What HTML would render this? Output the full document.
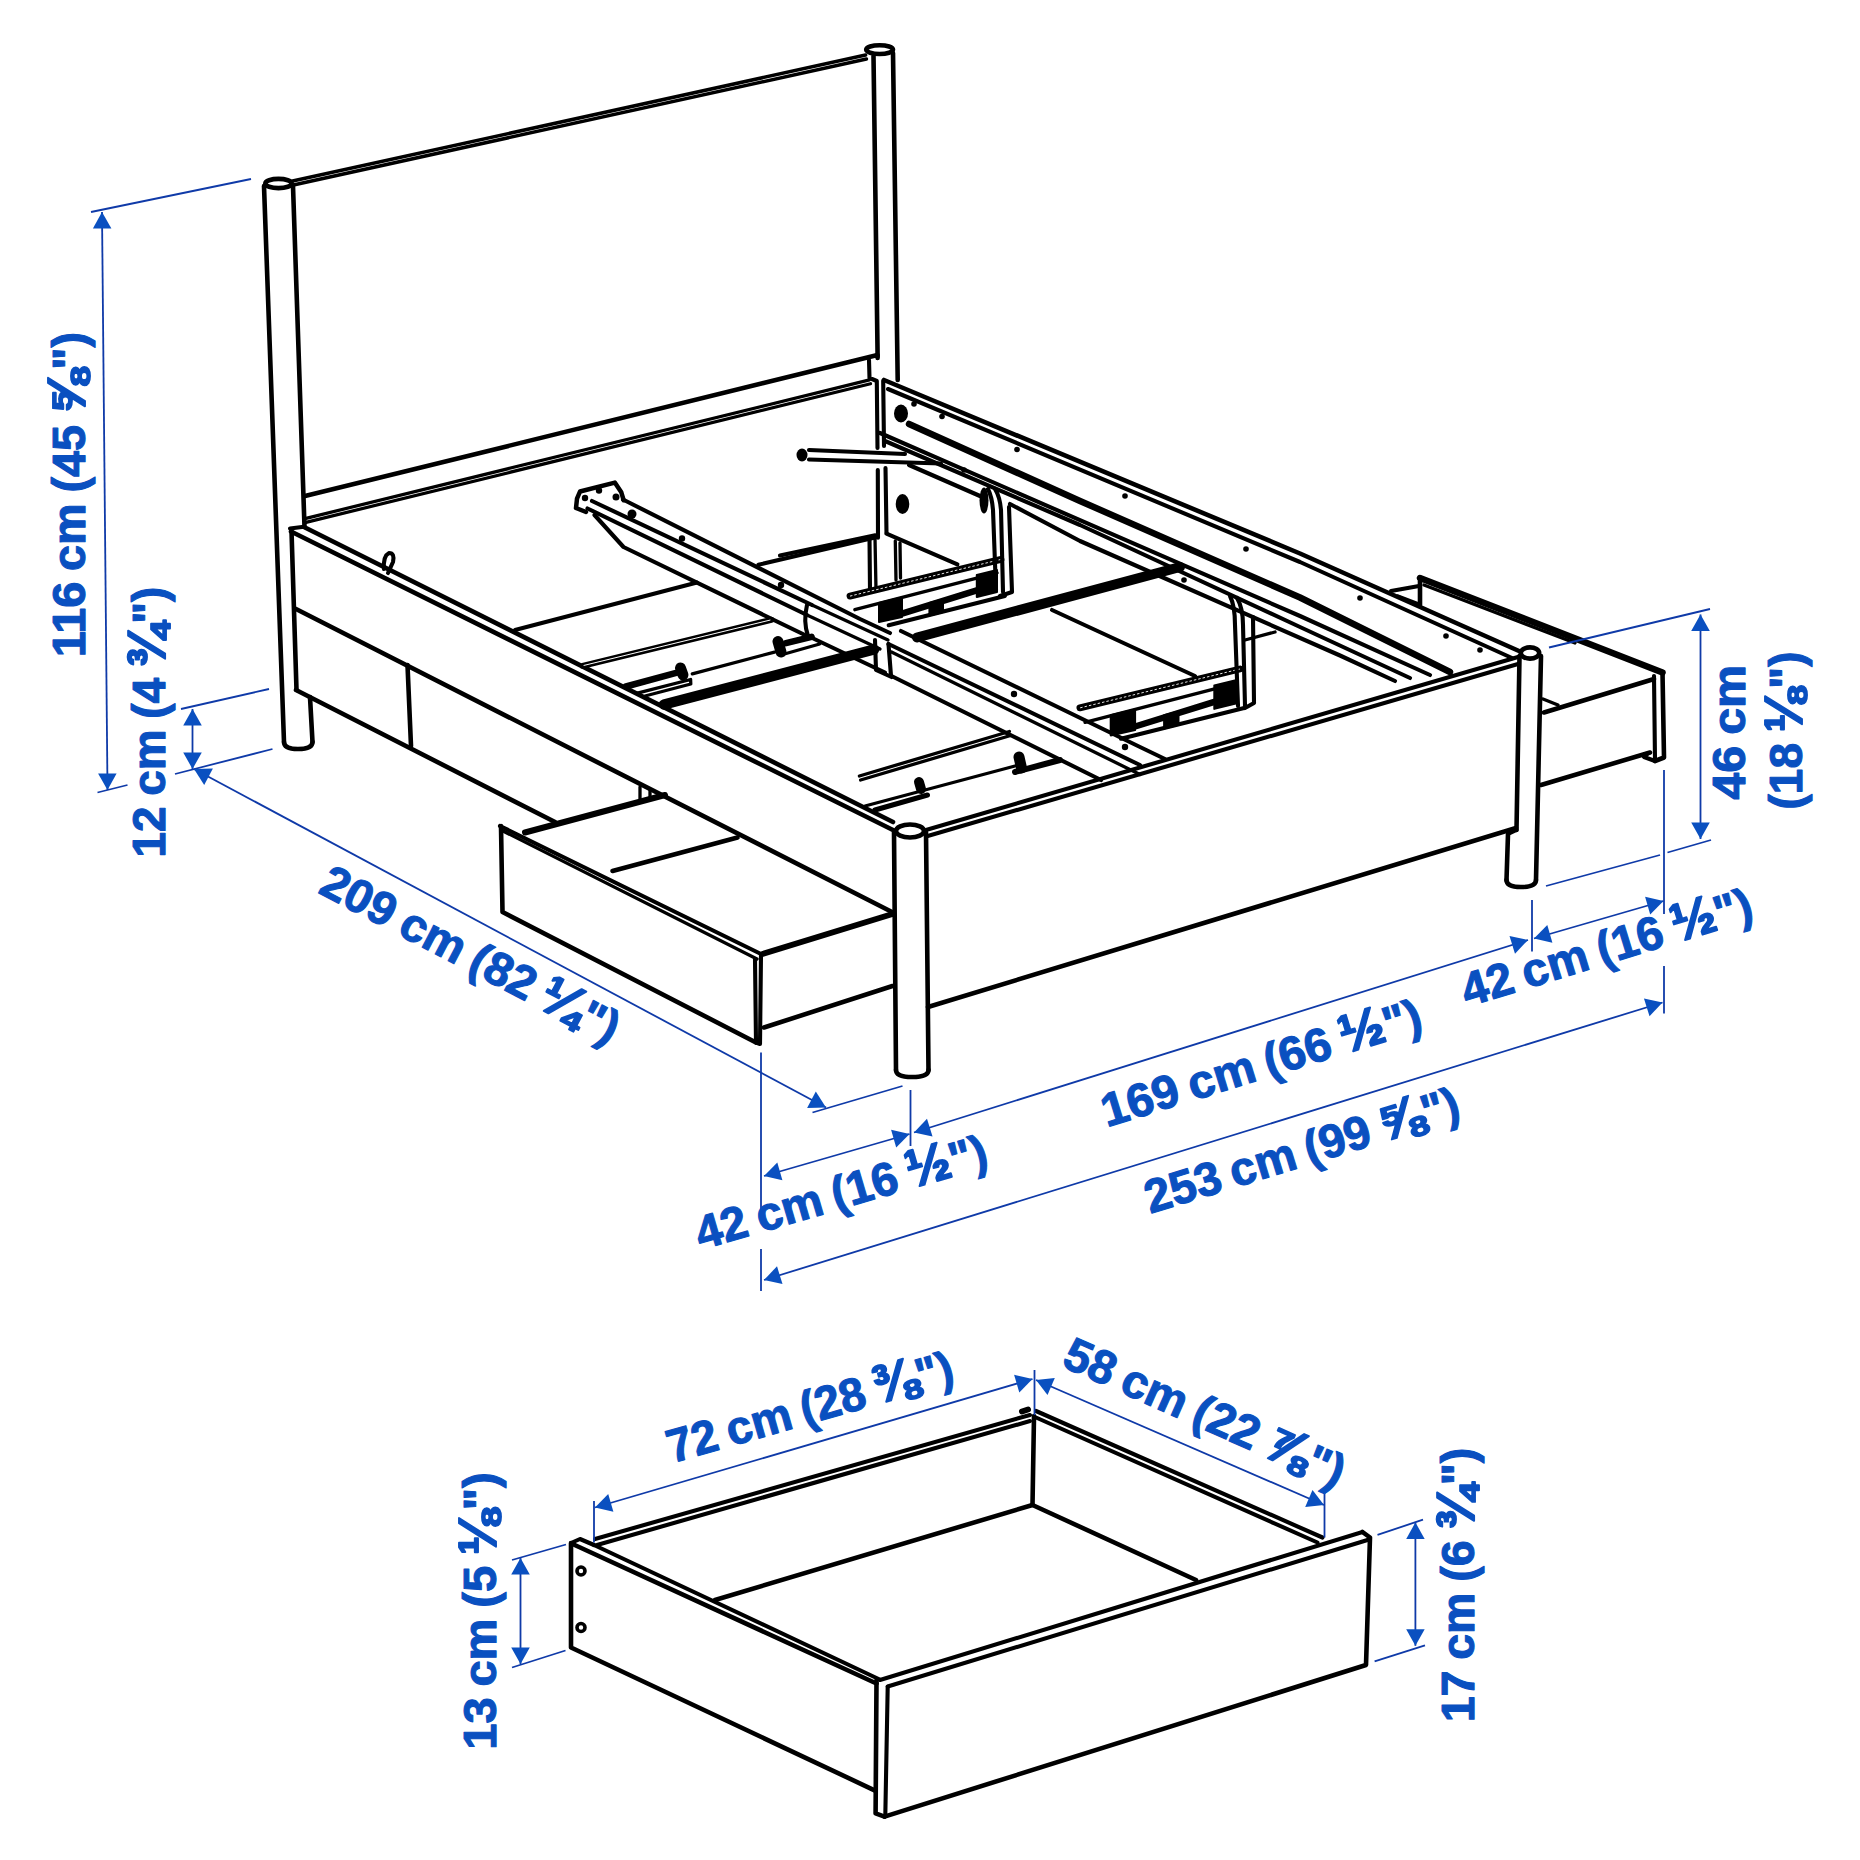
<!DOCTYPE html>
<html><head><meta charset="utf-8"><title>Bed frame measurements</title>
<style>html,body{margin:0;padding:0;background:#fff}svg{display:block}text{word-spacing:-0.05em;font-family:"Liberation Sans",Arial,sans-serif;font-weight:700;white-space:pre}</style>
</head><body>
<svg width="1860" height="1860" viewBox="0 0 1860 1860">
<rect width="1860" height="1860" fill="#fff"/>
<path d="M264.0,186.0 L284.0,742.0" stroke="#000" stroke-width="4.6" fill="none" stroke-linejoin="round" stroke-linecap="round"/>
<path d="M293.0,186.0 L304.5,527.0" stroke="#000" stroke-width="4.6" fill="none" stroke-linejoin="round" stroke-linecap="round"/>
<path d="M310.0,697.0 L312.5,742.0" stroke="#000" stroke-width="4.6" fill="none" stroke-linejoin="round" stroke-linecap="round"/>
<path d="M284,742 Q284,749 298,749 Q312.5,749 312.5,742" stroke="#000" stroke-width="4.6" fill="none" stroke-linejoin="round" stroke-linecap="round"/>
<ellipse cx="278.5" cy="183.5" rx="13.2" ry="4.6" stroke="#000" stroke-width="4.6" fill="#fff" transform="rotate(0 278.5 183.5)"/>
<path d="M893.0,53.0 L897.7,380.0" stroke="#000" stroke-width="4.6" fill="none" stroke-linejoin="round" stroke-linecap="round"/>
<ellipse cx="879.6" cy="49.6" rx="13.4" ry="4.4" stroke="#000" stroke-width="4.6" fill="#fff" transform="rotate(0 879.6 49.6)"/>
<line x1="293.4" y1="185.0" x2="866.4" y2="59.0" stroke="#000" stroke-width="3.5" stroke-linecap="round"/>
<line x1="292.6" y1="181.0" x2="865.6" y2="55.0" stroke="#000" stroke-width="3.5" stroke-linecap="round"/>
<path d="M873.5,56.0 L877.6,356.0" stroke="#000" stroke-width="4.6" fill="none" stroke-linejoin="round" stroke-linecap="round"/>
<path d="M305.0,496.0 L877.5,355.0 L877.6,358.0" stroke="#000" stroke-width="4.6" fill="none" stroke-linejoin="round" stroke-linecap="round"/>
<line x1="306.0" y1="522.4" x2="870.5" y2="383.7" stroke="#000" stroke-width="3.2" stroke-linecap="round"/>
<line x1="305.0" y1="518.6" x2="869.5" y2="379.9" stroke="#000" stroke-width="3.2" stroke-linecap="round"/>
<path d="M869.0,360.0 L869.5,378.0" stroke="#000" stroke-width="4.1" fill="none" stroke-linejoin="round" stroke-linecap="round"/>
<path d="M872.0,379.0 L876.8,381.0 L877.5,448.0" stroke="#000" stroke-width="4.1" fill="none" stroke-linejoin="round" stroke-linecap="round"/>
<path d="M877.8,470.0 L878.0,537.7" stroke="#000" stroke-width="4.1" fill="none" stroke-linejoin="round" stroke-linecap="round"/>
<path d="M883.2,381.0 L884.0,446.0" stroke="#000" stroke-width="4.1" fill="none" stroke-linejoin="round" stroke-linecap="round"/>
<path d="M885.5,468.0 L886.5,533.0" stroke="#000" stroke-width="4.1" fill="none" stroke-linejoin="round" stroke-linecap="round"/>
<path d="M780.0,555.5 L875.2,535.3" stroke="#000" stroke-width="4.1" fill="none" stroke-linejoin="round" stroke-linecap="round"/>
<path d="M869.5,538.0 L870.0,590.0" stroke="#000" stroke-width="4.1" fill="none" stroke-linejoin="round" stroke-linecap="round"/>
<path d="M875.0,538.0 L876.0,590.0" stroke="#000" stroke-width="3.3" fill="none" stroke-linejoin="round" stroke-linecap="round"/>
<path d="M895.3,541.0 L896.0,580.0" stroke="#000" stroke-width="3.3" fill="none" stroke-linejoin="round" stroke-linecap="round"/>
<path d="M900.0,543.0 L900.5,578.0" stroke="#000" stroke-width="3.3" fill="none" stroke-linejoin="round" stroke-linecap="round"/>
<path d="M886.5,533.7 L957.4,564.4" stroke="#000" stroke-width="4.1" fill="none" stroke-linejoin="round" stroke-linecap="round"/>
<path d="M304.0,527.0 L893.0,822.0" stroke="#000" stroke-width="4.6" fill="none" stroke-linejoin="round" stroke-linecap="round"/>
<path d="M291.0,531.5 L894.0,830.5" stroke="#000" stroke-width="4.6" fill="none" stroke-linejoin="round" stroke-linecap="round"/>
<path d="M290.0,528.5 L304.0,526.8" stroke="#000" stroke-width="4.1" fill="none" stroke-linejoin="round" stroke-linecap="round"/>
<path d="M291.5,531.0 L296.5,690.0" stroke="#000" stroke-width="4.6" fill="none" stroke-linejoin="round" stroke-linecap="round"/>
<path d="M296.0,609.0 L892.0,912.0" stroke="#000" stroke-width="4.6" fill="none" stroke-linejoin="round" stroke-linecap="round"/>
<path d="M296.0,690.0 L555.0,822.0" stroke="#000" stroke-width="4.6" fill="none" stroke-linejoin="round" stroke-linecap="round"/>
<path d="M407.5,665.0 L411.0,746.0" stroke="#000" stroke-width="4.6" fill="none" stroke-linejoin="round" stroke-linecap="round"/>
<path d="M384,569 Q383,556 389,553 Q395,553 393,562 L388,573" stroke="#000" stroke-width="4.1" fill="none" stroke-linejoin="round" stroke-linecap="round"/>
<path d="M894.0,832.0 L896.0,1070.0" stroke="#000" stroke-width="4.6" fill="none" stroke-linejoin="round" stroke-linecap="round"/>
<path d="M926.0,832.0 L928.5,1070.0" stroke="#000" stroke-width="4.6" fill="none" stroke-linejoin="round" stroke-linecap="round"/>
<path d="M896,1070 Q896,1077 912,1077 Q928.5,1077 928.5,1070" stroke="#000" stroke-width="4.6" fill="none" stroke-linejoin="round" stroke-linecap="round"/>
<ellipse cx="910" cy="831" rx="14" ry="6.5" stroke="#000" stroke-width="4.6" fill="#fff" transform="rotate(0 910 831)"/>
<path d="M926.0,830.0 L1518.0,657.0" stroke="#000" stroke-width="4.1" fill="none" stroke-linejoin="round" stroke-linecap="round"/>
<path d="M926.0,836.5 L1518.0,664.0" stroke="#000" stroke-width="4.1" fill="none" stroke-linejoin="round" stroke-linecap="round"/>
<path d="M928.0,1007.0 L1516.0,828.0" stroke="#000" stroke-width="4.6" fill="none" stroke-linejoin="round" stroke-linecap="round"/>
<path d="M1519.5,656.0 L1516.5,830.0" stroke="#000" stroke-width="4.6" fill="none" stroke-linejoin="round" stroke-linecap="round"/>
<path d="M1541.0,656.0 L1536.0,880.0" stroke="#000" stroke-width="4.6" fill="none" stroke-linejoin="round" stroke-linecap="round"/>
<path d="M1508.0,834.0 L1506.5,880.0" stroke="#000" stroke-width="4.6" fill="none" stroke-linejoin="round" stroke-linecap="round"/>
<path d="M1506.5,880 Q1506.5,887 1521,887 Q1536,887 1536,880" stroke="#000" stroke-width="4.6" fill="none" stroke-linejoin="round" stroke-linecap="round"/>
<path d="M1508.0,834.0 L1516.5,830.0" stroke="#000" stroke-width="4.1" fill="none" stroke-linejoin="round" stroke-linecap="round"/>
<ellipse cx="1530" cy="653" rx="9.2" ry="5.6" stroke="#000" stroke-width="4.6" fill="#fff" transform="rotate(0 1530 653)"/>
<path d="M884.0,380.0 L1300.0,553.5 L1519.0,651.0" stroke="#000" stroke-width="4.6" fill="none" stroke-linejoin="round" stroke-linecap="round"/>
<path d="M888.0,389.0 L1300.0,562.0 L1512.0,658.0" stroke="#000" stroke-width="4.1" fill="none" stroke-linejoin="round" stroke-linecap="round"/>
<path d="M909.0,424.0 L1080.0,501.0 L1300.0,597.5 L1450.0,672.0" stroke="#000" stroke-width="6.5" fill="none" stroke-linejoin="round" stroke-linecap="round"/>
<path d="M880.0,433.0 L1300.0,616.0 L1430.0,675.0" stroke="#000" stroke-width="4.1" fill="none" stroke-linejoin="round" stroke-linecap="round"/>
<path d="M885.0,441.0 L1080.0,525.0 L1300.0,627.0 L1410.0,678.0" stroke="#000" stroke-width="4.1" fill="none" stroke-linejoin="round" stroke-linecap="round"/>
<path d="M909.0,465.0 L980.0,496.0" stroke="#000" stroke-width="4.1" fill="none" stroke-linejoin="round" stroke-linecap="round"/>
<path d="M1010.0,504.0 L1080.0,541.0 L1340.0,655.5 L1395.0,681.0" stroke="#000" stroke-width="4.1" fill="none" stroke-linejoin="round" stroke-linecap="round"/>
<circle cx="914.0" cy="404.0" r="2.8" fill="#000" stroke="#000" stroke-width="0"/>
<circle cx="942.0" cy="416.5" r="2.8" fill="#000" stroke="#000" stroke-width="0"/>
<circle cx="1017.0" cy="449.5" r="2.8" fill="#000" stroke="#000" stroke-width="0"/>
<circle cx="1125.0" cy="496.0" r="2.8" fill="#000" stroke="#000" stroke-width="0"/>
<circle cx="1246.0" cy="549.0" r="2.8" fill="#000" stroke="#000" stroke-width="0"/>
<circle cx="1360.0" cy="598.0" r="2.8" fill="#000" stroke="#000" stroke-width="0"/>
<circle cx="1446.0" cy="636.0" r="2.8" fill="#000" stroke="#000" stroke-width="0"/>
<circle cx="1480.0" cy="650.0" r="2.8" fill="#000" stroke="#000" stroke-width="0"/>
<circle cx="964.0" cy="470.0" r="2.8" fill="#000" stroke="#000" stroke-width="0"/>
<circle cx="1184.0" cy="580.0" r="2.8" fill="#000" stroke="#000" stroke-width="0"/>
<ellipse cx="901" cy="413.5" rx="7" ry="9" fill="#000"/>
<ellipse cx="902.5" cy="504" rx="6.8" ry="10" fill="#000"/>
<ellipse cx="984" cy="500.5" rx="4.5" ry="13" fill="#000"/>
<path d="M809,450 L905,454 M809,459.5 L941,463.5" stroke="#000" stroke-width="4.1" fill="none" stroke-linejoin="round" stroke-linecap="round"/>
<ellipse cx="802" cy="455" rx="5.5" ry="6.5" fill="#000"/>
<path d="M500.0,826.0 L761.0,954.0" stroke="#000" stroke-width="4.1" fill="none" stroke-linejoin="round" stroke-linecap="round"/>
<path d="M503.0,831.0 L757.0,959.0" stroke="#000" stroke-width="3.3" fill="none" stroke-linejoin="round" stroke-linecap="round"/>
<path d="M501.0,826.0 L502.5,912.0 L756.0,1042.5" stroke="#000" stroke-width="4.6" fill="none" stroke-linejoin="round" stroke-linecap="round"/>
<path d="M755.0,959.0 L756.0,1042.5" stroke="#000" stroke-width="4.1" fill="none" stroke-linejoin="round" stroke-linecap="round"/>
<path d="M761.0,954.0 L760.0,1044.0 L756.0,1042.5" stroke="#000" stroke-width="4.1" fill="none" stroke-linejoin="round" stroke-linecap="round"/>
<path d="M525.0,832.5 L665.0,795.0" stroke="#000" stroke-width="6" fill="none" stroke-linejoin="round" stroke-linecap="round"/>
<path d="M762.5,954.0 L892.5,914.0" stroke="#000" stroke-width="6" fill="none" stroke-linejoin="round" stroke-linecap="round"/>
<path d="M764.0,1027.5 L892.5,986.0" stroke="#000" stroke-width="4.6" fill="none" stroke-linejoin="round" stroke-linecap="round"/>
<path d="M612.5,871.0 L737.5,837.5" stroke="#000" stroke-width="4.6" fill="none" stroke-linejoin="round" stroke-linecap="round"/>
<path d="M640.0,787.0 L640.0,800.0" stroke="#000" stroke-width="3.3" fill="none" stroke-linejoin="round" stroke-linecap="round"/>
<path d="M650.0,790.0 L650.0,797.0" stroke="#000" stroke-width="3.3" fill="none" stroke-linejoin="round" stroke-linecap="round"/>
<path d="M1420.0,578.0 L1662.5,672.5" stroke="#000" stroke-width="6.5" fill="none" stroke-linejoin="round" stroke-linecap="round"/>
<path d="M1420.0,578.0 L1420.0,605.0" stroke="#000" stroke-width="4.6" fill="none" stroke-linejoin="round" stroke-linecap="round"/>
<path d="M1424.0,585.0 L1575.0,643.0" stroke="#000" stroke-width="3.3" fill="none" stroke-linejoin="round" stroke-linecap="round"/>
<path d="M1391.0,591.0 L1419.0,586.0" stroke="#000" stroke-width="4.1" fill="none" stroke-linejoin="round" stroke-linecap="round"/>
<path d="M1398.0,596.0 L1419.0,604.0" stroke="#000" stroke-width="3.3" fill="none" stroke-linejoin="round" stroke-linecap="round"/>
<path d="M1662.5,672.5 L1664.0,757.5 L1655.0,761.0" stroke="#000" stroke-width="4.6" fill="none" stroke-linejoin="round" stroke-linecap="round"/>
<path d="M1654.0,676.0 L1655.0,761.0 L1644.0,757.0" stroke="#000" stroke-width="4.1" fill="none" stroke-linejoin="round" stroke-linecap="round"/>
<path d="M1544.0,712.5 L1654.0,679.0" stroke="#000" stroke-width="4.6" fill="none" stroke-linejoin="round" stroke-linecap="round"/>
<path d="M1541.0,785.0 L1650.0,752.5" stroke="#000" stroke-width="4.6" fill="none" stroke-linejoin="round" stroke-linecap="round"/>
<path d="M1543.0,699.0 L1558.0,705.0" stroke="#000" stroke-width="3.3" fill="none" stroke-linejoin="round" stroke-linecap="round"/>
<path d="M1644.0,757.0 L1650.0,752.5" stroke="#000" stroke-width="3.3" fill="none" stroke-linejoin="round" stroke-linecap="round"/>
<path d="M623.0,499.5 L860.0,619.0 L890.0,633.0" stroke="#000" stroke-width="4.1" fill="none" stroke-linejoin="round" stroke-linecap="round"/>
<path d="M592.0,501.0 L812.0,605.0" stroke="#000" stroke-width="4.1" fill="none" stroke-linejoin="round" stroke-linecap="round"/>
<path d="M587.5,508.5 L807.0,615.0" stroke="#000" stroke-width="4.1" fill="none" stroke-linejoin="round" stroke-linecap="round"/>
<path d="M594.5,515.0 L623.5,547.0 L807.0,636.0" stroke="#000" stroke-width="4.1" fill="none" stroke-linejoin="round" stroke-linecap="round"/>
<path d="M807,605 Q803,622 808,636" stroke="#000" stroke-width="4.1" fill="none" stroke-linejoin="round" stroke-linecap="round"/>
<path d="M808.0,636.0 L885.0,672.5" stroke="#000" stroke-width="4.1" fill="none" stroke-linejoin="round" stroke-linecap="round"/>
<path d="M812.0,605.0 L888.0,640.0" stroke="#000" stroke-width="3.3" fill="none" stroke-linejoin="round" stroke-linecap="round"/>
<path d="M807.0,615.0 L880.0,649.0" stroke="#000" stroke-width="3.3" fill="none" stroke-linejoin="round" stroke-linecap="round"/>
<path d="M901.0,631.0 L1140.0,747.0 L1165.0,759.0" stroke="#000" stroke-width="4.1" fill="none" stroke-linejoin="round" stroke-linecap="round"/>
<path d="M888.5,644.0 L1140.0,765.0" stroke="#000" stroke-width="4.1" fill="none" stroke-linejoin="round" stroke-linecap="round"/>
<path d="M891.5,652.0 L1140.0,774.5" stroke="#000" stroke-width="3.3" fill="none" stroke-linejoin="round" stroke-linecap="round"/>
<path d="M891.5,676.0 L1101.0,780.0" stroke="#000" stroke-width="4.1" fill="none" stroke-linejoin="round" stroke-linecap="round"/>
<path d="M875.0,640.0 L876.0,670.0 L891.5,677.0" stroke="#000" stroke-width="4.1" fill="none" stroke-linejoin="round" stroke-linecap="round"/>
<path d="M888.5,644.0 L891.0,676.0" stroke="#000" stroke-width="4.1" fill="none" stroke-linejoin="round" stroke-linecap="round"/>
<path d="M576,508 L577,498.7 L580,491.5 L614.8,482.6 L621.3,492.3 L623.7,500.3 M576,508 L586,512" stroke="#000" stroke-width="4.5" fill="none" stroke-linejoin="round" stroke-linecap="round"/>
<circle cx="599.0" cy="490.5" r="3.2" fill="#000" stroke="#000" stroke-width="0"/>
<circle cx="585.0" cy="498.0" r="3.2" fill="#000" stroke="#000" stroke-width="0"/>
<circle cx="616.0" cy="497.0" r="3.5" fill="#000" stroke="#000" stroke-width="0"/>
<circle cx="632.0" cy="514.0" r="4.5" fill="#000" stroke="#000" stroke-width="0"/>
<circle cx="682.0" cy="538.5" r="3.2" fill="#000" stroke="#000" stroke-width="0"/>
<circle cx="781.0" cy="585.0" r="3.2" fill="#000" stroke="#000" stroke-width="0"/>
<circle cx="1014.0" cy="694.0" r="3.2" fill="#000" stroke="#000" stroke-width="0"/>
<circle cx="1125.0" cy="747.0" r="3.2" fill="#000" stroke="#000" stroke-width="0"/>
<path d="M664.0,704.5 L874.0,649.5" stroke="#000" stroke-width="10.5" fill="none" stroke-linejoin="round" stroke-linecap="round"/>
<path d="M917.0,637.5 L1180.0,567.0" stroke="#000" stroke-width="10" fill="none" stroke-linejoin="round" stroke-linecap="round"/>
<path d="M515.0,630.0 L697.0,582.6" stroke="#000" stroke-width="4.1" fill="none" stroke-linejoin="round" stroke-linecap="round"/>
<path d="M758.4,564.8 L875.0,537.5" stroke="#000" stroke-width="4.1" fill="none" stroke-linejoin="round" stroke-linecap="round"/>
<path d="M582.6,665.8 L771.3,619.8" stroke="#000" stroke-width="6" fill="none" stroke-linejoin="round" stroke-linecap="round"/>
<path d="M584.0,665.4 L770.0,620.1" stroke="#fff" stroke-width="1" fill="none" stroke-linejoin="round" stroke-linecap="round"/>
<path d="M692.3,673.9 L774.5,652.1" stroke="#000" stroke-width="3.3" fill="none" stroke-linejoin="round" stroke-linecap="round"/>
<path d="M626.0,686.5 L678.0,672.3" stroke="#000" stroke-width="6.5" fill="none" stroke-linejoin="round" stroke-linecap="round"/>
<path d="M637.4,693.2 L690.6,679.5 L690.8,684.0 L645.0,696.0" stroke="#000" stroke-width="3.3" fill="none" stroke-linejoin="round" stroke-linecap="round"/>
<path d="M786.0,643.2 L811.6,636.8" stroke="#000" stroke-width="6.5" fill="none" stroke-linejoin="round" stroke-linecap="round"/>
<path d="M782.6,654.5 L819.7,644.0" stroke="#000" stroke-width="3.3" fill="none" stroke-linejoin="round" stroke-linecap="round"/>
<path d="M1052.0,610.0 L1195.0,676.0" stroke="#000" stroke-width="4.1" fill="none" stroke-linejoin="round" stroke-linecap="round"/>
<line x1="860.6" y1="780.0" x2="1010.6" y2="735.5" stroke="#000" stroke-width="3.3" stroke-linecap="round"/>
<line x1="859.4" y1="776.0" x2="1009.4" y2="731.5" stroke="#000" stroke-width="3.3" stroke-linecap="round"/>
<path d="M865.0,806.0 L1015.0,766.0" stroke="#000" stroke-width="3.3" fill="none" stroke-linejoin="round" stroke-linecap="round"/>
<path d="M1015.0,772.0 L1060.0,760.0" stroke="#000" stroke-width="6" fill="none" stroke-linejoin="round" stroke-linecap="round"/>
<path d="M875.0,810.0 L927.5,795.0" stroke="#000" stroke-width="5" fill="none" stroke-linejoin="round" stroke-linecap="round"/>
<path d="M1001.0,559.4 L850.0,596.1" stroke="#000" stroke-width="6.8" fill="none" stroke-linejoin="round" stroke-linecap="round"/>
<line x1="1001.0" y1="559.4" x2="850.0" y2="596.1" stroke="#fff" stroke-width="0.9" stroke-dasharray="2.5 2"/>
<path d="M854.8,609.7 L997.1,572.9" stroke="#000" stroke-width="3.3" fill="none" stroke-linejoin="round" stroke-linecap="round"/>
<path d="M879.0,603.0 L902.0,597.5 L902.0,617.0 L879.0,622.0 Z" stroke="#000" stroke-width="2" fill="#000" stroke-linejoin="round" stroke-linecap="round"/>
<path d="M902.0,613.6 L976.8,590.3" stroke="#000" stroke-width="6.5" fill="none" stroke-linejoin="round" stroke-linecap="round"/>
<path d="M976.8,575.0 L997.0,570.0 L997.0,592.0 L976.8,597.0 Z" stroke="#000" stroke-width="2" fill="#000" stroke-linejoin="round" stroke-linecap="round"/>
<path d="M929.4,603.0 L943.0,599.5 L943.0,612.0 L929.4,615.5 Z" stroke="#000" stroke-width="2" fill="#000" stroke-linejoin="round" stroke-linecap="round"/>
<path d="M888.7,625.2 L1004.9,596.1" stroke="#000" stroke-width="4.1" fill="none" stroke-linejoin="round" stroke-linecap="round"/>
<path d="M1240.0,669.0 L1079.9,707.9" stroke="#000" stroke-width="6.8" fill="none" stroke-linejoin="round" stroke-linecap="round"/>
<line x1="1240.0" y1="669.0" x2="1079.9" y2="707.9" stroke="#fff" stroke-width="0.9" stroke-dasharray="2.5 2"/>
<path d="M1085.0,722.3 L1235.9,683.3" stroke="#000" stroke-width="3.3" fill="none" stroke-linejoin="round" stroke-linecap="round"/>
<path d="M1110.7,715.2 L1135.1,709.4 L1135.1,730.1 L1110.7,735.4 Z" stroke="#000" stroke-width="2" fill="#000" stroke-linejoin="round" stroke-linecap="round"/>
<path d="M1135.1,726.5 L1214.3,701.8" stroke="#000" stroke-width="6.5" fill="none" stroke-linejoin="round" stroke-linecap="round"/>
<path d="M1214.3,685.5 L1235.8,680.2 L1235.8,703.6 L1214.3,708.9 Z" stroke="#000" stroke-width="2" fill="#000" stroke-linejoin="round" stroke-linecap="round"/>
<path d="M1164.1,715.2 L1178.5,711.5 L1178.5,724.8 L1164.1,728.5 Z" stroke="#000" stroke-width="2" fill="#000" stroke-linejoin="round" stroke-linecap="round"/>
<path d="M1121.0,738.7 L1244.1,707.9" stroke="#000" stroke-width="4.1" fill="none" stroke-linejoin="round" stroke-linecap="round"/>
<path d="M988,489 Q992,497 993,510 L996,590" stroke="#000" stroke-width="4.1" fill="none" stroke-linejoin="round" stroke-linecap="round"/>
<path d="M995,489 Q1000,497 1001,510 L1003,592" stroke="#000" stroke-width="4.1" fill="none" stroke-linejoin="round" stroke-linecap="round"/>
<path d="M1009.0,507.0 L1012.0,592.0 L1000.0,596.0" stroke="#000" stroke-width="4.1" fill="none" stroke-linejoin="round" stroke-linecap="round"/>
<path d="M1230,596 Q1235,606 1235,625 L1238,706" stroke="#000" stroke-width="4.1" fill="none" stroke-linejoin="round" stroke-linecap="round"/>
<path d="M1237,598 Q1243,608 1243,625 L1245,706" stroke="#000" stroke-width="4.1" fill="none" stroke-linejoin="round" stroke-linecap="round"/>
<path d="M1253.0,617.0 L1254.0,703.0 L1245.0,708.0" stroke="#000" stroke-width="4.1" fill="none" stroke-linejoin="round" stroke-linecap="round"/>
<path d="M1245.0,640.0 L1275.0,632.0" stroke="#000" stroke-width="3.3" fill="none" stroke-linejoin="round" stroke-linecap="round"/>
<path d="M778.0,641.5 L781.0,652.0" stroke="#000" stroke-width="11" fill="none" stroke-linejoin="round" stroke-linecap="round"/>
<path d="M680.5,668.0 L683.0,675.0" stroke="#000" stroke-width="11" fill="none" stroke-linejoin="round" stroke-linecap="round"/>
<path d="M1019.0,757.0 L1021.5,768.0" stroke="#000" stroke-width="11" fill="none" stroke-linejoin="round" stroke-linecap="round"/>
<path d="M919.0,782.0 L921.0,789.0" stroke="#000" stroke-width="10" fill="none" stroke-linejoin="round" stroke-linecap="round"/>
<path d="M571.0,1543.0 L571.0,1647.5 L875.6,1790.8" stroke="#000" stroke-width="4.6" fill="none" stroke-linejoin="round" stroke-linecap="round"/>
<path d="M572.5,1544.0 L876.5,1683.5" stroke="#000" stroke-width="4.6" fill="none" stroke-linejoin="round" stroke-linecap="round"/>
<path d="M594.0,1545.0 L879.7,1679.5" stroke="#000" stroke-width="4.1" fill="none" stroke-linejoin="round" stroke-linecap="round"/>
<path d="M571.0,1543.0 L580.0,1539.0 L594.0,1545.0" stroke="#000" stroke-width="4.1" fill="none" stroke-linejoin="round" stroke-linecap="round"/>
<path d="M876.5,1680.3 L875.6,1813.4 L884.5,1816.6" stroke="#000" stroke-width="4.6" fill="none" stroke-linejoin="round" stroke-linecap="round"/>
<path d="M887.7,1686.8 L885.3,1815.8" stroke="#000" stroke-width="4.1" fill="none" stroke-linejoin="round" stroke-linecap="round"/>
<path d="M595.0,1539.0 L1030.0,1415.0" stroke="#000" stroke-width="4.1" fill="none" stroke-linejoin="round" stroke-linecap="round"/>
<path d="M597.0,1545.0 L1030.0,1421.0" stroke="#000" stroke-width="4.1" fill="none" stroke-linejoin="round" stroke-linecap="round"/>
<path d="M1034.0,1416.0 L1032.5,1505.0" stroke="#000" stroke-width="4.6" fill="none" stroke-linejoin="round" stroke-linecap="round"/>
<path d="M1036.0,1411.0 L1322.5,1537.5" stroke="#000" stroke-width="4.1" fill="none" stroke-linejoin="round" stroke-linecap="round"/>
<path d="M1036.0,1417.5 L1317.5,1542.5" stroke="#000" stroke-width="4.1" fill="none" stroke-linejoin="round" stroke-linecap="round"/>
<path d="M715.0,1600.0 L1032.5,1505.0 L1196.0,1580.0" stroke="#000" stroke-width="4.6" fill="none" stroke-linejoin="round" stroke-linecap="round"/>
<path d="M880.0,1680.0 L1362.5,1532.0" stroke="#000" stroke-width="4.1" fill="none" stroke-linejoin="round" stroke-linecap="round"/>
<path d="M887.7,1686.5 L1367.5,1540.0" stroke="#000" stroke-width="4.1" fill="none" stroke-linejoin="round" stroke-linecap="round"/>
<path d="M1362.5,1532.0 L1370.0,1537.5 L1366.0,1665.0 L884.5,1816.6" stroke="#000" stroke-width="4.6" fill="none" stroke-linejoin="round" stroke-linecap="round"/>
<circle cx="581.0" cy="1571.0" r="4" fill="#fff" stroke="#000" stroke-width="3.6"/>
<circle cx="581.0" cy="1627.5" r="4" fill="#fff" stroke="#000" stroke-width="3.6"/>
<path d="M1022.0,1411.5 L1028.0,1409.5" stroke="#000" stroke-width="6" fill="none" stroke-linejoin="round" stroke-linecap="round"/>
<line x1="91.0" y1="212.0" x2="251.0" y2="179.0" stroke="#0f3aa8" stroke-width="1.8" stroke-linecap="butt"/>
<line x1="102.0" y1="212.0" x2="107.5" y2="790.0" stroke="#0f3aa8" stroke-width="1.8" stroke-linecap="butt"/>
<polygon points="102.0,212.0 111.4,228.4 92.9,228.6" fill="#0a50c0"/>
<polygon points="107.5,790.0 98.1,773.6 116.6,773.4" fill="#0a50c0"/>
<line x1="97.5" y1="792.5" x2="127.5" y2="785.0" stroke="#0f3aa8" stroke-width="1.8" stroke-linecap="butt"/>
<line x1="181.0" y1="709.0" x2="269.0" y2="689.0" stroke="#0f3aa8" stroke-width="1.8" stroke-linecap="butt"/>
<line x1="175.0" y1="774.0" x2="272.5" y2="749.0" stroke="#0f3aa8" stroke-width="1.8" stroke-linecap="butt"/>
<line x1="192.5" y1="709.0" x2="192.5" y2="769.0" stroke="#0f3aa8" stroke-width="1.8" stroke-linecap="butt"/>
<polygon points="192.5,709.0 201.8,725.5 183.2,725.5" fill="#0a50c0"/>
<polygon points="192.5,769.0 183.2,752.5 201.8,752.5" fill="#0a50c0"/>
<line x1="194.0" y1="769.0" x2="826.0" y2="1107.5" stroke="#0f3aa8" stroke-width="1.8" stroke-linecap="butt"/>
<polygon points="194.0,769.0 212.9,768.6 204.2,784.9" fill="#0a50c0"/>
<polygon points="826.0,1107.5 807.1,1107.9 815.8,1091.6" fill="#0a50c0"/>
<line x1="761.0" y1="1052.5" x2="761.0" y2="1215.0" stroke="#0f3aa8" stroke-width="1.8" stroke-linecap="butt"/>
<line x1="761.0" y1="1249.0" x2="761.0" y2="1291.0" stroke="#0f3aa8" stroke-width="1.8" stroke-linecap="butt"/>
<line x1="812.5" y1="1112.5" x2="902.5" y2="1086.0" stroke="#0f3aa8" stroke-width="1.8" stroke-linecap="butt"/>
<line x1="910.5" y1="1090.0" x2="910.5" y2="1146.0" stroke="#0f3aa8" stroke-width="1.8" stroke-linecap="butt"/>
<line x1="764.0" y1="1176.0" x2="909.5" y2="1134.0" stroke="#0f3aa8" stroke-width="1.8" stroke-linecap="butt"/>
<polygon points="764.0,1176.0 777.3,1162.5 782.4,1180.3" fill="#0a50c0"/>
<polygon points="909.5,1134.0 896.2,1147.5 891.1,1129.7" fill="#0a50c0"/>
<line x1="914.0" y1="1132.5" x2="1528.0" y2="940.0" stroke="#0f3aa8" stroke-width="1.8" stroke-linecap="butt"/>
<polygon points="914.0,1132.5 927.0,1118.7 932.5,1136.4" fill="#0a50c0"/>
<polygon points="1528.0,940.0 1515.0,953.8 1509.5,936.1" fill="#0a50c0"/>
<line x1="764.0" y1="1280.0" x2="1662.5" y2="1002.5" stroke="#0f3aa8" stroke-width="1.8" stroke-linecap="butt"/>
<polygon points="764.0,1280.0 777.0,1266.3 782.5,1284.0" fill="#0a50c0"/>
<polygon points="1662.5,1002.5 1649.5,1016.2 1644.0,998.5" fill="#0a50c0"/>
<line x1="1532.0" y1="900.0" x2="1532.0" y2="951.5" stroke="#0f3aa8" stroke-width="1.8" stroke-linecap="butt"/>
<line x1="1534.0" y1="938.5" x2="1663.5" y2="901.0" stroke="#0f3aa8" stroke-width="1.8" stroke-linecap="butt"/>
<polygon points="1534.0,938.5 1547.3,925.0 1552.4,942.8" fill="#0a50c0"/>
<polygon points="1663.5,901.0 1650.2,914.5 1645.1,896.7" fill="#0a50c0"/>
<line x1="1664.0" y1="770.0" x2="1664.0" y2="914.0" stroke="#0f3aa8" stroke-width="1.8" stroke-linecap="butt"/>
<line x1="1664.0" y1="966.0" x2="1664.0" y2="1013.5" stroke="#0f3aa8" stroke-width="1.8" stroke-linecap="butt"/>
<line x1="1549.0" y1="647.5" x2="1710.0" y2="609.0" stroke="#0f3aa8" stroke-width="1.8" stroke-linecap="butt"/>
<line x1="1546.0" y1="886.0" x2="1660.0" y2="855.0" stroke="#0f3aa8" stroke-width="1.8" stroke-linecap="butt"/>
<line x1="1667.5" y1="852.5" x2="1711.0" y2="840.0" stroke="#0f3aa8" stroke-width="1.8" stroke-linecap="butt"/>
<line x1="1700.5" y1="614.5" x2="1700.5" y2="839.0" stroke="#0f3aa8" stroke-width="1.8" stroke-linecap="butt"/>
<polygon points="1700.5,614.5 1709.8,631.0 1691.2,631.0" fill="#0a50c0"/>
<polygon points="1700.5,839.0 1691.2,822.5 1709.8,822.5" fill="#0a50c0"/>
<line x1="512.0" y1="1560.0" x2="566.0" y2="1544.5" stroke="#0f3aa8" stroke-width="1.8" stroke-linecap="butt"/>
<line x1="512.0" y1="1667.5" x2="565.5" y2="1650.5" stroke="#0f3aa8" stroke-width="1.8" stroke-linecap="butt"/>
<line x1="520.5" y1="1558.0" x2="520.5" y2="1664.0" stroke="#0f3aa8" stroke-width="1.8" stroke-linecap="butt"/>
<polygon points="520.5,1558.0 529.8,1574.5 511.2,1574.5" fill="#0a50c0"/>
<polygon points="520.5,1664.0 511.2,1647.5 529.8,1647.5" fill="#0a50c0"/>
<line x1="594.0" y1="1501.0" x2="594.0" y2="1542.5" stroke="#0f3aa8" stroke-width="1.8" stroke-linecap="butt"/>
<line x1="595.0" y1="1507.5" x2="1032.5" y2="1379.0" stroke="#0f3aa8" stroke-width="1.8" stroke-linecap="butt"/>
<polygon points="595.0,1507.5 608.2,1494.0 613.4,1511.7" fill="#0a50c0"/>
<polygon points="1032.5,1379.0 1019.3,1392.5 1014.1,1374.8" fill="#0a50c0"/>
<line x1="1034.5" y1="1370.0" x2="1034.5" y2="1415.0" stroke="#0f3aa8" stroke-width="1.8" stroke-linecap="butt"/>
<line x1="1036.0" y1="1380.0" x2="1324.0" y2="1505.0" stroke="#0f3aa8" stroke-width="1.8" stroke-linecap="butt"/>
<polygon points="1036.0,1380.0 1054.8,1378.1 1047.5,1395.1" fill="#0a50c0"/>
<polygon points="1324.0,1505.0 1305.2,1506.9 1312.5,1489.9" fill="#0a50c0"/>
<line x1="1324.5" y1="1492.5" x2="1324.5" y2="1537.5" stroke="#0f3aa8" stroke-width="1.8" stroke-linecap="butt"/>
<line x1="1377.5" y1="1534.8" x2="1423.0" y2="1519.7" stroke="#0f3aa8" stroke-width="1.8" stroke-linecap="butt"/>
<line x1="1374.6" y1="1661.4" x2="1425.0" y2="1645.3" stroke="#0f3aa8" stroke-width="1.8" stroke-linecap="butt"/>
<line x1="1415.4" y1="1522.4" x2="1415.4" y2="1645.8" stroke="#0f3aa8" stroke-width="1.8" stroke-linecap="butt"/>
<polygon points="1415.4,1522.4 1424.7,1538.9 1406.2,1538.9" fill="#0a50c0"/>
<polygon points="1415.4,1645.8 1406.2,1629.3 1424.7,1629.3" fill="#0a50c0"/>
<text transform="translate(85.0 493.2) rotate(-90.00) scale(0.9969 1)" x="-164.51" y="0" font-size="47" fill="#0a50c0" stroke="#0a50c0" stroke-width="1.1" stroke-linejoin="round" xml:space="preserve">116 cm (45 <tspan font-size="53.6" stroke-width="1.9">⅝</tspan>&quot;)</text>
<text transform="translate(165.0 722.0) rotate(-90.00) scale(0.9792 1)" x="-138.37" y="0" font-size="47" fill="#0a50c0" stroke="#0a50c0" stroke-width="1.1" stroke-linejoin="round" xml:space="preserve">12 cm (4 <tspan font-size="53.6" stroke-width="1.9">¾</tspan>&quot;)</text>
<text transform="translate(463.1 968.7) rotate(27.60) scale(1.0030 1)" x="-164.51" y="0" font-size="47" fill="#0a50c0" stroke="#0a50c0" stroke-width="1.1" stroke-linejoin="round" xml:space="preserve">209 cm (82 <tspan font-size="53.6" stroke-width="1.9">¼</tspan>&quot;)</text>
<text transform="translate(1745.0 732.3) rotate(-90.00) scale(1.0312 1)" x="-65.46" y="0" font-size="47" fill="#0a50c0" stroke="#0a50c0" stroke-width="1.1" stroke-linejoin="round" xml:space="preserve">46 cm</text>
<text transform="translate(1802.0 730.5) rotate(-90.00) scale(0.9798 1)" x="-80.63" y="0" font-size="47" fill="#0a50c0" stroke="#0a50c0" stroke-width="1.1" stroke-linejoin="round" xml:space="preserve">(18 <tspan font-size="53.6" stroke-width="1.9">⅛</tspan>&quot;)</text>
<text transform="translate(1611.4 962.7) rotate(-17.10) scale(0.9971 1)" x="-151.44" y="0" font-size="47" fill="#0a50c0" stroke="#0a50c0" stroke-width="1.1" stroke-linejoin="round" xml:space="preserve">42 cm (16 <tspan font-size="53.6" stroke-width="1.9">½</tspan>&quot;)</text>
<text transform="translate(845.6 1207.7) rotate(-16.30) scale(0.9971 1)" x="-151.44" y="0" font-size="47" fill="#0a50c0" stroke="#0a50c0" stroke-width="1.1" stroke-linejoin="round" xml:space="preserve">42 cm (16 <tspan font-size="53.6" stroke-width="1.9">½</tspan>&quot;)</text>
<text transform="translate(1265.9 1078.2) rotate(-17.10) scale(1.0121 1)" x="-164.51" y="0" font-size="47" fill="#0a50c0" stroke="#0a50c0" stroke-width="1.1" stroke-linejoin="round" xml:space="preserve">169 cm (66 <tspan font-size="53.6" stroke-width="1.9">½</tspan>&quot;)</text>
<text transform="translate(1306.5 1165.6) rotate(-17.10) scale(0.9939 1)" x="-164.51" y="0" font-size="47" fill="#0a50c0" stroke="#0a50c0" stroke-width="1.1" stroke-linejoin="round" xml:space="preserve">253 cm (99 <tspan font-size="53.6" stroke-width="1.9">⅝</tspan>&quot;)</text>
<text transform="translate(814.2 1422.5) rotate(-16.00) scale(0.9773 1)" x="-151.44" y="0" font-size="47" fill="#0a50c0" stroke="#0a50c0" stroke-width="1.1" stroke-linejoin="round" xml:space="preserve">72 cm (28 <tspan font-size="53.6" stroke-width="1.9">⅜</tspan>&quot;)</text>
<text transform="translate(1198.4 1427.2) rotate(24.00) scale(0.9987 1)" x="-151.44" y="0" font-size="47" fill="#0a50c0" stroke="#0a50c0" stroke-width="1.1" stroke-linejoin="round" xml:space="preserve">58 cm (22 <tspan font-size="53.6" stroke-width="1.9">⅞</tspan>&quot;)</text>
<text transform="translate(495.8 1611.0) rotate(-90.00) scale(1.0027 1)" x="-138.37" y="0" font-size="47" fill="#0a50c0" stroke="#0a50c0" stroke-width="1.1" stroke-linejoin="round" xml:space="preserve">13 cm (5 <tspan font-size="53.6" stroke-width="1.9">⅛</tspan>&quot;)</text>
<text transform="translate(1474.3 1585.0) rotate(-90.00) scale(0.9926 1)" x="-138.37" y="0" font-size="47" fill="#0a50c0" stroke="#0a50c0" stroke-width="1.1" stroke-linejoin="round" xml:space="preserve">17 cm (6 <tspan font-size="53.6" stroke-width="1.9">¾</tspan>&quot;)</text>
</svg>
</body></html>
